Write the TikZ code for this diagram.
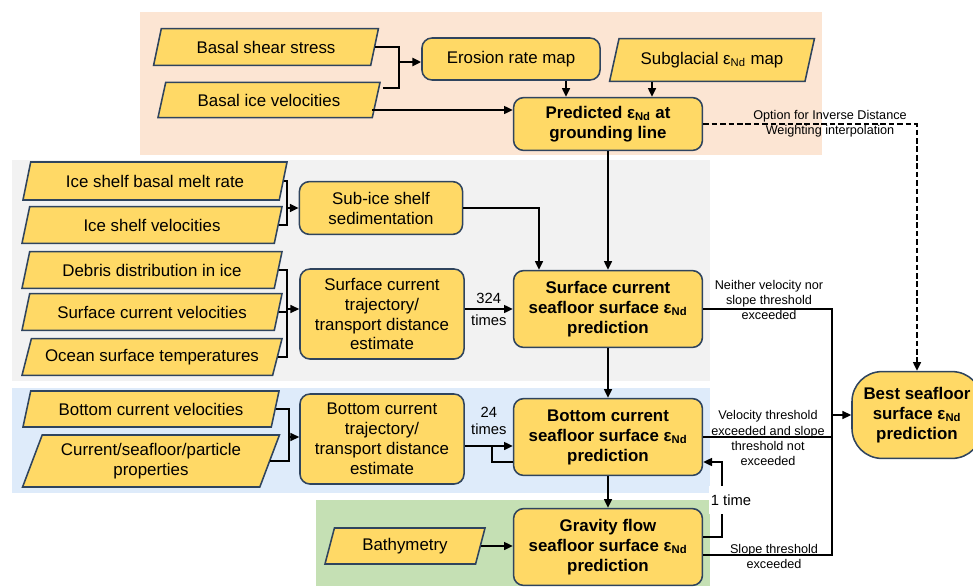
\documentclass[tikz,border=0pt]{standalone}
\usepackage{fontspec}
\setmainfont{Liberation Sans}
\usepackage{xcolor}
\usepackage{tikz}
\usetikzlibrary{arrows.meta, calc, shapes.geometric}
\definecolor{bandorange}{RGB}{252, 229, 211}
\definecolor{bandgray}{RGB}{242, 242, 242}
\definecolor{bandblue}{RGB}{222, 235, 250}
\definecolor{bandgreen}{RGB}{197, 224, 180}
\definecolor{boxgold}{RGB}{255, 217, 102}
\definecolor{boxedge}{RGB}{47, 68, 94}
\newcommand{\eNd}{ε\textsubscript{Nd}}
\tikzset{
  datain/.style={trapezium, trapezium left angle=63, trapezium right angle=117,
                 trapezium stretches body, draw=boxedge, fill=boxgold,
                 line width=1.1pt, align=center, inner sep=1pt,
                 font=\fontsize{12}{14.2}\selectfont},
  proc/.style={rounded corners=#1, draw=boxedge, fill=boxgold, line width=1.1pt,
               align=center, inner sep=1pt, font=\fontsize{12}{14.2}\selectfont},
  proc/.default=0.25cm,
  pred/.style={proc=#1, font=\fontsize{12}{14.2}\selectfont\bfseries},
  pred/.default=0.25cm,
  wire/.style={line width=1.1pt},
  arr/.style={-{Triangle[length=2.2mm, width=2mm]}, line width=1.1pt},
  lbl/.style={font=\fontsize{9}{10.7}\selectfont, align=center},
  cnt/.style={font=\fontsize{10.5}{12.5}\selectfont, align=center},
}

\begin{document}
\begin{tikzpicture}[x=0.025cm, y=-0.025cm]
  \path[use as bounding box, clip] (0,0) rectangle (973,586);

  % background bands
  \fill[bandorange] (140,12) rectangle (822,155);
  \fill[bandgray]   (12,160) rectangle (710,381);
  \fill[bandblue]   (12,388) rectangle (710,493);
  \fill[bandgreen]  (316,500) rectangle (710,586);

  % ---- grounding line ----
  \node[datain, minimum width=5.62cm, minimum height=0.92cm] (bss) at (266,47)
    {Basal shear stress};
  \node[datain, minimum width=5.55cm, minimum height=0.88cm] (biv) at (269,100)
    {Basal ice velocities};
  \node[datain, minimum width=5.12cm, minimum height=1.07cm] (subgl) at (712,60)
    {Subglacial \eNd{} map};
  \node[proc, minimum width=4.45cm, minimum height=1.05cm] (ero) at (511,59)
    {Erosion rate map};
  \node[pred, minimum width=4.72cm, minimum height=1.32cm] (pgl) at (608,124)
    {Predicted \eNd{} at\\grounding line};

  % ---- surface current ----
  \node[datain, minimum width=6.6cm, minimum height=0.95cm] (isbmr) at (155,181)
    {Ice shelf basal melt rate};
  \node[datain, minimum width=6.5cm, minimum height=0.92cm] (isv) at (152,225)
    {Ice shelf velocities};
  \node[datain, minimum width=6.5cm, minimum height=0.92cm] (debris) at (152,270)
    {Debris distribution in ice};
  \node[datain, minimum width=6.5cm, minimum height=0.92cm] (scv) at (152,312)
    {Surface current velocities};
  \node[datain, minimum width=6.5cm, minimum height=0.92cm] (ocean) at (152,357)
    {Ocean surface temperatures};
  \node[proc, minimum width=4.08cm, minimum height=1.32cm] (sised) at (381,208)
    {Sub-ice shelf\\sedimentation};
  \node[proc, minimum width=4.1cm, minimum height=2.25cm] (scur) at (382,314)
    {Surface current\\trajectory/\\transport distance\\estimate};
  \node[pred, minimum width=4.72cm, minimum height=1.92cm] (spred) at (608,309)
    {Surface current\\seafloor surface \eNd\\prediction};

  % ---- bottom current ----
  \node[datain, minimum width=6.4cm, minimum height=0.9cm] (bcv) at (151,409)
    {Bottom current velocities};
  \node[datain, minimum width=6.42cm, minimum height=1.3cm] (csp) at (151,461)
    {Current/seafloor/particle\\properties};
  \node[proc, minimum width=4.1cm, minimum height=2.25cm] (bcur) at (382,439)
    {Bottom current\\trajectory/\\transport distance\\estimate};
  \node[pred, minimum width=4.72cm, minimum height=1.92cm] (bpred) at (608,437)
    {Bottom current\\seafloor surface \eNd\\prediction};

  % ---- gravity flow ----
  \node[datain, minimum width=4cm, minimum height=0.9cm] (bathy) at (405,546)
    {Bathymetry};
  \node[pred, minimum width=4.72cm, minimum height=1.92cm] (gpred) at (608,547)
    {Gravity flow\\seafloor surface \eNd\\prediction};

  \node[pred=0.75cm, minimum width=3.25cm, minimum height=2.17cm] (best) at (917,415)
    {Best seafloor\\surface \eNd\\prediction};

  % connectors, top band
  \coordinate (jero) at (399,62);
  \draw[wire] (bss.east) -| (jero);
  \draw[wire] ($(biv.east)+(6,-12)$) -| (jero);
  \draw[arr, line width=1.8pt] (jero) -- (jero -| ero.west);
  \coordinate (bivlo) at ($(biv.east)+(-5,10)$);
  \draw[arr] (bivlo) -- (bivlo -| pgl.west);
  \coordinate (pglL) at ($(pgl.north)+(-42,0)$);
  \coordinate (pglR) at ($(pgl.north)+(44,0)$);
  \draw[arr] (ero.south -| pglL) -- (pglL);
  \draw[arr] (subgl.south -| pglR) -- (pglR);
  \draw[arr] (pgl.south) -- (spred.north);
  \draw[arr, dash pattern=on 4pt off 2pt] (pgl.east) -| (best.north);

  % connectors, surface current
  \coordinate (jsub) at (287,208);
  \draw[wire] (isbmr.east) -| (jsub);
  \draw[wire] (isv.east) -| (jsub);
  \draw[arr] (jsub) -- (jsub -| sised.west);
  \draw[arr] (sised.east) -| ($(spred.north)+(-69,0)$);
  \coordinate (jscur) at (287,309);
  \foreach \src in {debris, scv, ocean}
    \draw[wire] (\src.east) -| (jscur);
  \draw[arr] (jscur) -- (jscur -| scur.west);
  \draw[arr] (scur.east |- spred.west) -- (spred.west)
    node[cnt, midway, above] (n324) {324}
    node[cnt, midway, below] (nt324) {times};
  \draw[arr] (spred.south) -- (bpred.north);

  % connectors, bottom current
  \coordinate (jbcur) at (289,437);
  \draw[wire] (bcv.east) -| (jbcur);
  \draw[wire] (csp.east) -| (jbcur);
  \draw[arr] (jbcur) -- (jbcur -| bcur.west);
  \coordinate (b24) at ($(bpred.west)+(-21,9)$);
  \draw[arr] (bcur.east |- b24) -- (b24 -| bpred.west)
    node[cnt, midway, above=4pt] (n24) {24\\times};
  \draw[wire] (b24) |- ($(bpred.west)+(0,25)$);
  \draw[arr] (bpred.south) -- (gpred.north);
  \draw[arr] (bathy.east) -- (bathy.east -| gpred.west);

  % thresholds to best prediction
  \coordinate (bus) at (832,415);
  \coordinate (gout) at ($(gpred.east)+(0,8)$);
  \draw[wire] (spred.east) -| (bus) |- (gout);
  \draw[wire] (bpred.east) -- (bpred.east -| bus);
  \draw[arr] (bus) -- (best.west);
  \coordinate (gup) at ($(gpred.east)+(0,-10)$);
  \coordinate (glo) at ($(bpred.east)+(0,25)$);
  \coordinate (once) at (722,500);
  \draw[arr] (gup) -| (once) |- (glo);
  \node[cnt, fill=white, inner xsep=1pt, inner ysep=6pt] (n1) at ($(once)+(9,0)$)
    {1 time};

  \node[lbl] (lidw) at (830,124) {Option for Inverse Distance\\Weighting interpolation};
  \node[lbl] (lnone) at (769,300) {Neither velocity nor\\slope threshold\\exceeded};
  \node[lbl] (lvel) at (768,438)
    {Velocity threshold\\exceeded and slope\\threshold not\\exceeded};
  \node[lbl] (lslope) at (774,556) {Slope threshold\\exceeded};
\end{tikzpicture}
\end{document}
